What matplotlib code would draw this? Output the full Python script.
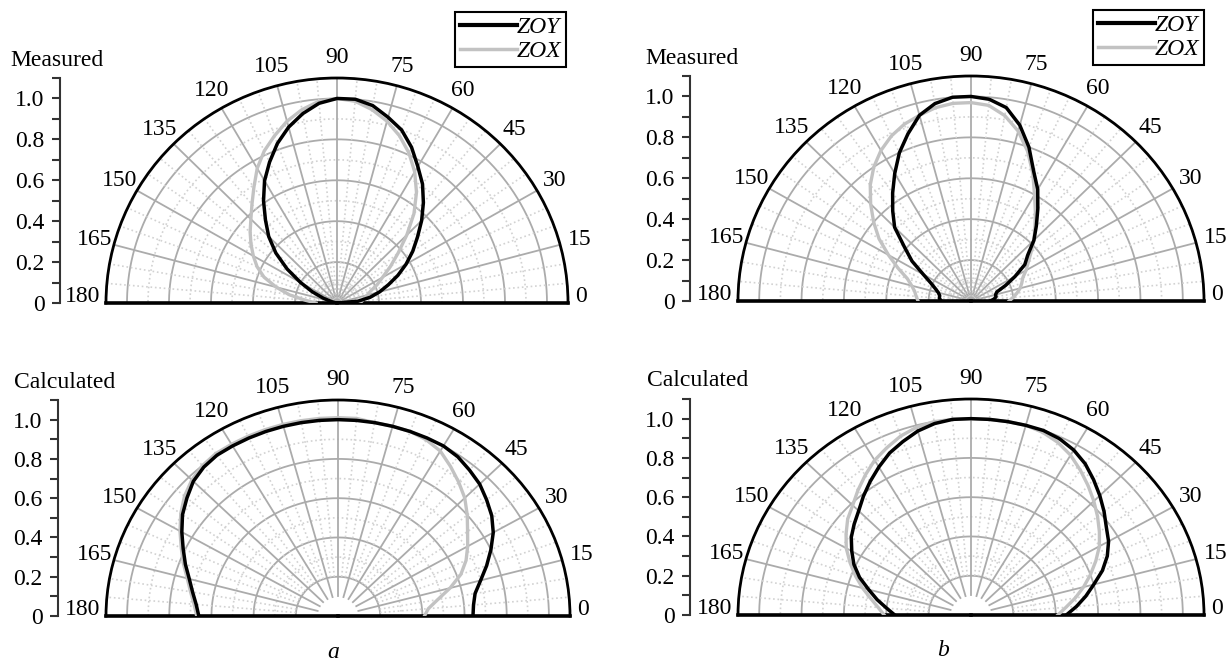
import numpy as np
import matplotlib.pyplot as plt
from matplotlib.lines import Line2D

plt.rcParams['font.family'] = ['Liberation Serif', 'DejaVu Serif']
plt.rcParams['font.size'] = 17

W, H = 1229, 662

# angle of each sample, degrees
theta_deg = np.arange(0, 181, 5)

# (a) measured
meas_a_zoy = [0.0, .10, .16, .21, .26, .32, .38, .44, .50, .57, .64, .71, .77, .84, .90, .94, .98, 1.0, 1.0,
              .98, .94, .89, .83, .76, .69, .61, .53, .46, .38, .29, .20, .13, .07, .03, .01, 0.0, 0.0]
meas_a_zox = [.11, .12, .13, .15, .17, .21, .25, .31, .38, .47, .57, .66, .74, .81, .87, .92, .96, .99, 1.0,
              .99, .96, .92, .87, .82, .76, .69, .63, .58, .54, .50, .46, .42, .37, .30, .23, .15, .10]
# (b) measured
meas_b_zoy = [.09, .11, .12, .12, .13, .18, .24, .31, .35, .42, .48, .55, .63, .70, .80, .89, .96, .99, 1.0,
              1.0, .98, .94, .87, .80, .72, .645, .575, .51, .41, .34, .26, .21, .18, .16, .15, .15, .14]
meas_b_zox = [.18, .20, .22, .24, .255, .27, .30, .33, .37, .42, .47, .53, .60, .69, .78, .86, .92, .96, .97,
              .97, .96, .94, .92, .89, .85, .80, .74, .67, .60, .53, .45, .38, .32, .29, .27, .26, .25]
# (a) calculated
calc_a_zoy = [.64, .645, .66, .70, .75, .80, .85, .89, .92, .95, .97, .99, 1.0, 1.0, 1.0, 1.0, 1.0, 1.0, 1.0,
              1.0, 1.0, 1.0, 1.0, 1.0, 1.0, 1.0, .99, .97, .935, .90, .855, .81, .77, .73, .70, .675, .66]
calc_a_zox = [.41, .43, .48, .55, .62, .67, .71, .75, .80, .85, .89, .93, .97, .99, 1.0, 1.0, 1.0, 1.01, 1.01,
              1.01, 1.01, 1.01, 1.01, 1.01, 1.01, 1.01, 1.0, .98, .95, .91, .865, .82, .78, .74, .71, .685, .67]
# (b) calculated
calc_b_zoy = [.45, .50, .55, .60, .66, .71, .75, .78, .82, .86, .90, .94, .97, .99, 1.0, 1.0, 1.0, 1.0, 1.0,
              1.0, .99, .97, .94, .91, .87, .83, .79, .75, .72, .69, .65, .61, .56, .50, .45, .40, .36]
calc_b_zox = [.41, .45, .50, .55, .60, .65, .70, .74, .78, .82, .86, .90, .94, .97, .99, 1.0, 1.0, 1.0, 1.0,
              1.0, 1.0, .99, .97, .94, .91, .87, .83, .79, .76, .72, .68, .63, .58, .53, .48, .44, .41]

theta_labels = [str(a) for a in range(0, 181, 15)]
r_ticks = [0, 0.2, 0.4, 0.6, 0.8, 1.0]
r_labels = ['0', '0.2', '0.4', '0.6', '0.8', '1.0']

ZOY_COLOR = 'black'
ZOX_COLOR = '#c2c2c2'
MAJ_GRID = '#ababab'
MIN_GRID = '#d2d2d2'


def panel(fig, cx, cy, rx, ry, spine_x, zoy, zox, title, title_x, inner):
    # polar box: the half disc sits in the middle half of the axes height
    ax = fig.add_axes([(cx - rx) / W, (H - cy - 0.5 * ry) / H, 2 * rx / W, 2 * ry / H],
                      projection='polar')
    ax.set_thetamin(0)
    ax.set_thetamax(180)
    ax.set_aspect('auto')
    ax.set_rlim(0, 1.1)
    ax.grid(False)
    ax.set_yticks([])
    ax.set_xticks(np.deg2rad(np.arange(0, 181, 15)))
    # end labels (0, 180) are placed by hand a bit above the base line
    ax.set_xticklabels([''] + theta_labels[1:-1] + [''])
    ax.tick_params(axis='x', pad=4, labelsize=17)
    ax.annotate(theta_labels[0], xy=(0, 1.1), xytext=(5, 5), textcoords='offset points',
                ha='left', va='center', fontsize=17, annotation_clip=False)
    ax.annotate(theta_labels[-1], xy=(np.pi, 1.1), xytext=(-4, 5), textcoords='offset points',
                ha='right', va='center', fontsize=17, annotation_clip=False)
    ax.spines['polar'].set_linewidth(2.0)
    ax.spines['start'].set_linewidth(2.6)
    ax.spines['end'].set_linewidth(2.6)
    ax.spines['inner'].set_visible(False)

    arc = np.linspace(0, np.pi, 200)
    r0_maj, r0_min = (0.1, 0.2) if inner else (0.0, 0.0)
    for r in [0.2, 0.4, 0.6, 0.8, 1.0]:
        ax.plot(arc, np.full_like(arc, r), color=MAJ_GRID, lw=1.3, zorder=1)
    for r in ([0.3, 0.5, 0.7, 0.9] if inner else [0.1, 0.3, 0.5, 0.7, 0.9]):
        ax.plot(arc, np.full_like(arc, r), color=MIN_GRID, lw=1.2, ls=':', zorder=1)
    for a in range(5, 180, 5):
        t = np.deg2rad(a)
        if a % 15 == 0:
            ax.plot([t, t], [r0_maj, 1.1], color=MAJ_GRID, lw=1.3, zorder=1)
        else:
            ax.plot([t, t], [r0_min, 1.1], color=MIN_GRID, lw=1.2, ls=':', zorder=1)

    th = np.deg2rad(theta_deg)
    ax.plot(th, zox, color=ZOX_COLOR, lw=2.4, zorder=3)
    ax.plot(th, zoy, color=ZOY_COLOR, lw=2.5, zorder=4)

    # left radial scale
    rax = fig.add_axes([spine_x / W, (H - cy) / H, 0.0005, ry / H])
    rax.set_ylim(0, 1.1)
    rax.set_xticks([])
    rax.patch.set_visible(False)
    for s in ['top', 'right', 'bottom']:
        rax.spines[s].set_visible(False)
    rax.spines['left'].set_linewidth(1.5)
    rax.spines['left'].set_color('#333333')
    rax.set_yticks(r_ticks)
    rax.set_yticklabels(r_labels)
    rax.set_yticks([0.1, 0.3, 0.5, 0.7, 0.9, 1.1], minor=True)
    rax.tick_params(axis='y', which='both', direction='out', length=6, width=1.5,
                    color='#333333', pad=5, labelsize=17)

    fig.text(title_x / W, 1 - (cy - ry - 18) / H, title, ha='left', va='center', fontsize=17)
    return ax


fig = plt.figure(figsize=(W / 100, H / 100), dpi=100)

panel(fig, 337, 303, 231, 225, 60, meas_a_zoy, meas_a_zox, 'Measured', 10, False)
panel(fig, 971, 301, 233, 225, 690, meas_b_zoy, meas_b_zox, 'Measured', 645, False)
panel(fig, 338, 616, 232, 216, 58, calc_a_zoy, calc_a_zox, 'Calculated', 14, True)
panel(fig, 971, 615, 233, 216, 690, calc_b_zoy, calc_b_zox, 'Calculated', 647, True)

handles = [Line2D([], [], color=ZOY_COLOR, lw=3), Line2D([], [], color=ZOX_COLOR, lw=2.5)]
for x_right, y_top in [(566, 12), (1204, 10)]:
    leg = fig.legend(handles, ['ZOY', 'ZOX'], loc='upper right',
                     bbox_to_anchor=(x_right / W, 1 - y_top / H),
                     prop={'family': 'Liberation Serif', 'style': 'italic', 'size': 17},
                     frameon=True, fancybox=False, edgecolor='black', framealpha=1,
                     borderpad=0.2, handlelength=2.4, handletextpad=0.0,
                     labelspacing=0.1, borderaxespad=0)
    leg.get_frame().set_linewidth(1.5)

fig.text(333 / W, 1 - 652 / H, 'a', ha='center', va='center', fontsize=17, style='italic')
fig.text(943 / W, 1 - 650 / H, 'b', ha='center', va='center', fontsize=17, style='italic')

fig.savefig('out.png', dpi=100)
